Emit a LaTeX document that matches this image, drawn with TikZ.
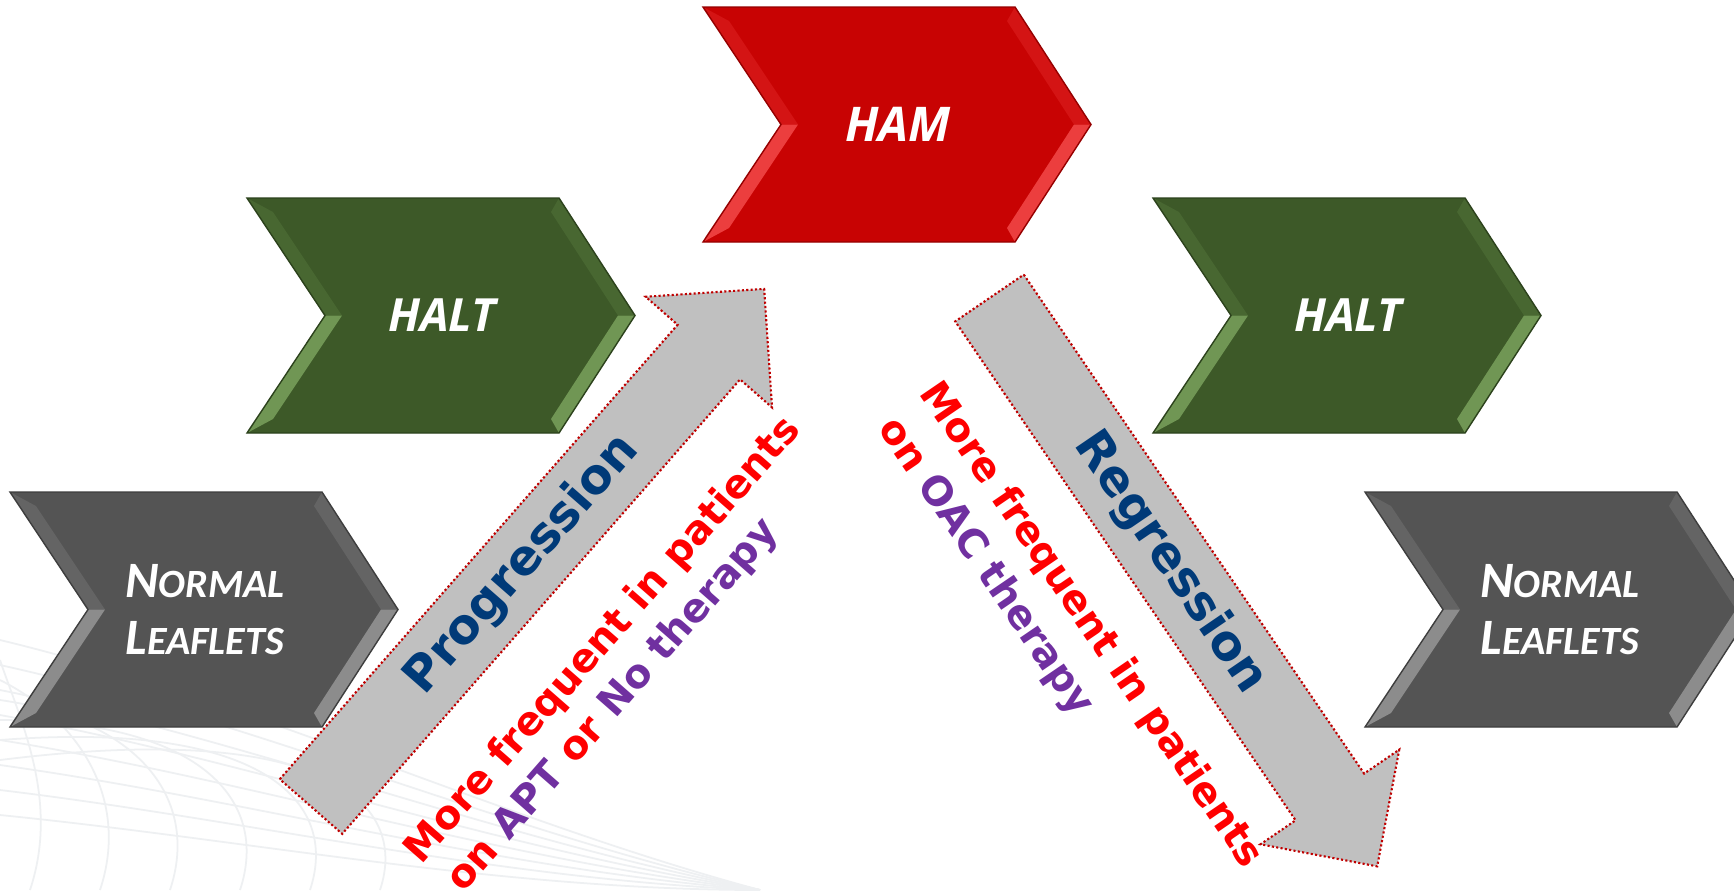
\documentclass[tikz,border=0pt]{standalone}
\usepackage{fontspec}
\setmainfont{Liberation Sans}
\newfontfamily\verdfont{DejaVu Sans}
\newfontfamily\calfont{Carlito}
\newfontfamily\openfont{Open Sans}
\usetikzlibrary{calc}
\tikzset{>=latex}

\definecolor{grmain}{RGB}{84,84,84}
\definecolor{grmid}{RGB}{100,100,100}
\definecolor{grlight}{RGB}{140,140,140}
\definecolor{grline}{RGB}{62,62,62}
\definecolor{gnmain}{RGB}{61,89,40}
\definecolor{gnmid}{RGB}{72,103,49}
\definecolor{gnlight}{RGB}{112,150,84}
\definecolor{gnline}{RGB}{44,66,28}
\definecolor{rdmain}{RGB}{200,3,3}
\definecolor{rdmid}{RGB}{212,20,20}
\definecolor{rdlight}{RGB}{236,62,62}
\definecolor{rdline}{RGB}{150,0,0}
\definecolor{arrowgray}{RGB}{192,192,192}
\definecolor{dotred}{RGB}{192,0,0}
\definecolor{progblue}{RGB}{0,58,120}
\definecolor{notered}{RGB}{255,0,0}
\definecolor{notepurple}{RGB}{112,48,160}
\definecolor{swoosh}{RGB}{238,240,242}

\tikzset{
  chevtext/.style={text=white, align=left, inner sep=0pt},
  halttext/.style={chevtext, font=\openfont\bfseries\itshape\fontsize{13}{15}\selectfont},
  hamtext/.style={chevtext, font=\openfont\bfseries\itshape\fontsize{13.6}{15}\selectfont},
  normtext/.style={chevtext, font=\calfont\bfseries\itshape\fontsize{14.5}{16.4}\selectfont},
  grayarrow/.style={fill=arrowgray, draw=dotred, line width=0.6pt, dash pattern=on 0.6pt off 0.65pt},
  arrowlbl/.style={text=progblue, font=\verdfont\bfseries\fontsize{13.8}{16}\selectfont, transform shape, inner sep=0pt},
  notelbl/.style={text=notered, font=\verdfont\bfseries\fontsize{11.3}{14}\selectfont, transform shape, anchor=base west, inner sep=0pt}
}

% small caps made by hand
\newcommand{\fakesc}[2]{#1{\fontsize{11.4}{16.4}\selectfont #2}}

% chevron: name, left x, top y, colour set, label style, label
\newcommand{\chevbox}[6]{%
  \fill[#4main] (#2,#3) -- (#2+312,#3) -- (#2+388,#3+117.5) -- (#2+312,#3+235) -- (#2,#3+235) -- (#2+78,#3+117.5) -- cycle;
  \fill[#4mid] (#2,#3) -- (#2+78,#3+117.5) -- (#2+95,#3+117.5) -- (#2+26,#3+14) -- cycle;
  \fill[#4light] (#2+78,#3+117.5) -- (#2,#3+235) -- (#2+26,#3+221) -- (#2+95,#3+117.5) -- cycle;
  \fill[#4mid] (#2+312,#3) -- (#2+388,#3+117.5) -- (#2+371,#3+117.5) -- (#2+304,#3+14) -- cycle;
  \fill[#4light] (#2+388,#3+117.5) -- (#2+312,#3+235) -- (#2+304,#3+221) -- (#2+371,#3+117.5) -- cycle;
  \draw[#4line, line width=0.4pt] (#2,#3) -- (#2+312,#3) -- (#2+388,#3+117.5) -- (#2+312,#3+235) -- (#2,#3+235) -- (#2+78,#3+117.5) -- cycle;
  \node[#5] (#1) at (#2+195,#3+117.5) {#6};
}

\begin{document}
\begin{tikzpicture}[x=0.01cm, y=-0.01cm]
\useasboundingbox (0,0) rectangle (1734,890);
\fill[white] (0,0) rectangle (1734,890);

% faint background lines
\foreach \k in {0,...,7}
  \draw[swoosh, line width=0.5pt] (0,640+25*\k) .. controls (250,700+20*\k) and (500,820+10*\k) .. (760,890);
\foreach \k in {0,...,5}
  \draw[swoosh, line width=0.5pt] (30+70*\k,890) .. controls (60+70*\k,800) and (20+60*\k,720) .. (0,660+20*\k);

% the five stages
\chevbox{normL}{10}{492}{gr}{normtext}{\fakesc{N}{ORMAL}\\\fakesc{L}{EAFLETS}}
\chevbox{haltL}{247}{198}{gn}{halttext}{HALT}
\chevbox{ham}{703}{7}{rd}{hamtext}{HAM}
\chevbox{haltR}{1153}{198}{gn}{halttext}{HALT}
\chevbox{normR}{1365}{492}{gr}{normtext}{\fakesc{N}{ORMAL}\\\fakesc{L}{EAFLETS}}

% progression arrow
\begin{scope}[shift={(311,806.5)}, rotate=48.8]
\draw[grayarrow] (0,-41.5) -- (604,-41.5) -- (604,-84) -- (688,0) -- (604,84) -- (604,41.5) -- (0,41.5) -- cycle;
\node[arrowlbl] (prog) at (321,0) {Progression};
\node[notelbl] (progA) at (28,122) {More frequent in patients};
\node[notelbl] (progB) at (34,172) {on \textcolor{notepurple}{APT} or \textcolor{notepurple}{No therapy}};
\end{scope}

% regression arrow
\begin{scope}[shift={(989.5,298)}, rotate=-55.7]
\draw[grayarrow] (0,-41.5) -- (604,-41.5) -- (604,-84) -- (688,0) -- (604,84) -- (604,41.5) -- (0,41.5) -- cycle;
\node[arrowlbl] (regr) at (321,0) {Regression};
\node[notelbl] (regrA) at (38,112) {More frequent in patients};
\node[notelbl] (regrB) at (44,166) {on \textcolor{notepurple}{OAC therapy}};
\end{scope}
\end{tikzpicture}
\end{document}
